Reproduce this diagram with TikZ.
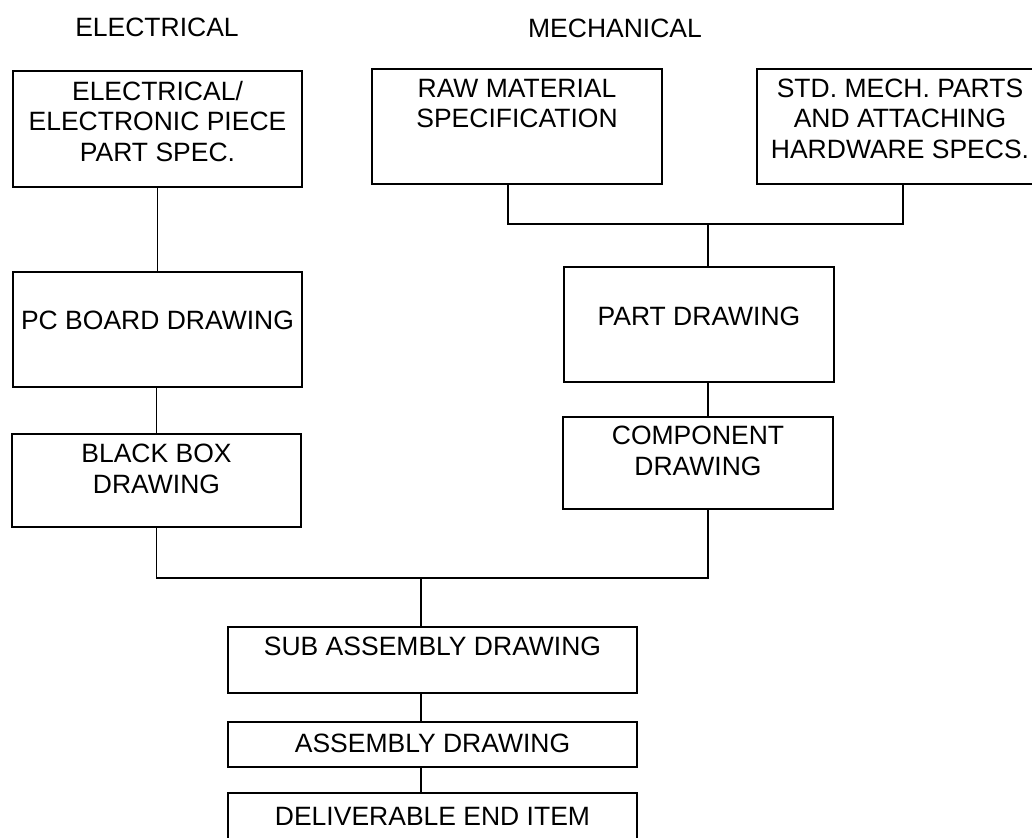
\documentclass[tikz,border=0pt]{standalone}
\usepackage{fontspec}
\setmainfont{Liberation Sans}
\usetikzlibrary{positioning}

\begin{document}
\begin{tikzpicture}[x=0.5pt, y=-0.5pt,
      box/.style={draw=black, line width=0.9pt, inner sep=0pt},
      txt/.style={font=\fontsize{13.25}{15.25}\selectfont, align=center, inner sep=0pt},
      head/.style={font=\fontsize{13.25}{15.25}\selectfont, inner sep=0pt},
      link/.style={draw=black, line width=0.8pt}
    ]
    \useasboundingbox (0,0) rectangle (1032,838);
    \clip (0,0) rectangle (1032,838);
    \node[head] (helec) at (157,27) {ELECTRICAL};
    \node[head] (hmech) at (615,28) {MECHANICAL};
    \node[box, minimum width=144.5pt, minimum height=58pt]   (elec)  at (157.5,129)   {};
    \node[box, minimum width=145pt,   minimum height=57.5pt] (raw)   at (517,126.5)   {};
    \node[box, minimum width=143pt,   minimum height=57.5pt] (std)   at (900,126.5)   {};
    \node[box, minimum width=144.5pt, minimum height=57.5pt] (pcb)   at (157.5,329.5) {};
    \node[box, minimum width=135pt,   minimum height=57.5pt] (part)  at (699,324.5)   {};
    \node[box, minimum width=144.5pt, minimum height=46.5pt] (black) at (156.5,480.5) {};
    \node[box, minimum width=135pt,   minimum height=46pt]   (comp)  at (698,463)     {};
    \node[box, minimum width=204.5pt, minimum height=33pt]   (sub)   at (432.5,660)   {};
    \node[box, minimum width=204.5pt, minimum height=22.5pt] (asm)   at (432.5,744.5) {};
    \node[box, minimum width=204.5pt, minimum height=24.5pt] (deliv) at (432.5,817.5) {};
    \node[txt, below=5.25pt of elec.north]   (elect)  {ELECTRICAL/\\ELECTRONIC PIECE\\PART SPEC.};
    \node[txt, below=5.25pt of raw.north]    (rawt)   {RAW MATERIAL\\SPECIFICATION};
    \node[txt, below=5.25pt of std.north]    (stdt)   {STD. MECH. PARTS\\AND ATTACHING\\HARDWARE SPECS.};
    \node[txt, below=19.75pt of pcb.north]   (pcbt)   {PC BOARD DRAWING};
    \node[txt, below=20.25pt of part.north]  (partt)  {PART DRAWING};
    \node[txt, below=5.25pt of black.north]  (blackt) {BLACK BOX\\DRAWING};
    \node[txt, below=4.75pt of comp.north]   (compt)  {COMPONENT\\DRAWING};
    \node[txt, below=5.25pt of sub.north]    (subt)   {SUB ASSEMBLY DRAWING};
    \node[txt, below=6.25pt of asm.north]    (asmt)   {ASSEMBLY DRAWING};
    \node[txt, below=7.25pt of deliv.north]  (delivt) {DELIVERABLE END ITEM};
    \coordinate (mj) at (708,224);
    \coordinate (aj) at (421,578);
    \draw[link] (elec.south -| pcb) -- (pcb.north);
    \draw[link] (pcb.south -| black) -- (black.north);
    \draw[link] ([xshift=-4.5pt]raw.south) |- (mj) -| ([xshift=1.5pt]std.south);
    \draw[link] (mj) -- (part.north -| mj);
    \draw[link] (part.south -| mj) -- (comp.north -| mj);
    \draw[link] (black.south) |- (aj) -| (comp.south -| mj);
    \draw[link] (aj) -- (sub.north -| aj);
    \draw[link] (sub.south -| aj) -- (asm.north -| aj);
    \draw[link] (asm.south -| aj) -- (deliv.north -| aj);
  \end{tikzpicture}
\end{document}
